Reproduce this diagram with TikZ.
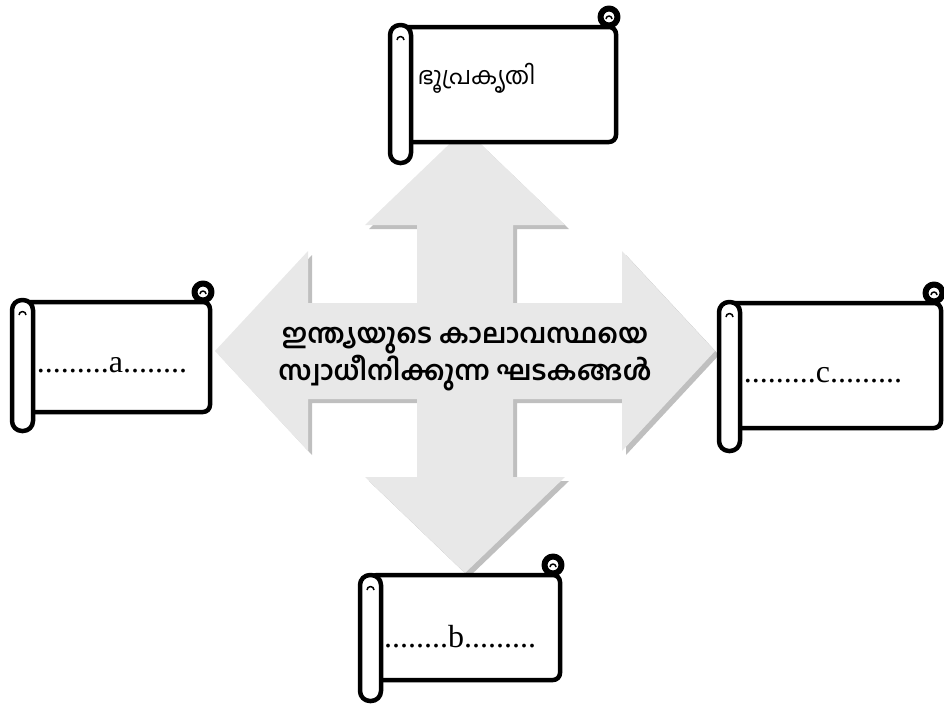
\documentclass[tikz,border=0pt]{standalone}
\usepackage{fontspec}
\setmainfont{Liberation Serif}
\newfontfamily\malfont[Script=Malayalam]{Hind Kochi}
\begin{document}
\begin{tikzpicture}[x=1pt,y=-1pt,line join=round,
  scrollline/.style={line width=4.5pt,line cap=round},
  blank/.style={font=\fontsize{32}{36}\selectfont}]
	\useasboundingbox (0,0) rectangle (944,704);

	%four-way arrow (shadow first, then the grey arrow)
	\foreach \d/\shade in {4/gray!50,0/gray!18}
	  \fill[\shade,shift={(465+\d,351+\d)}] (0,-222) -- (100,-126) -- (48,-126) -- (48,-48) -- (157,-48) -- (157,-100)
	    -- (250,0) -- (157,100) -- (157,48) -- (48,48) -- (48,126) -- (100,126) -- (0,222) -- (-100,126) -- (-48,126)
	    -- (-48,48) -- (-157,48) -- (-157,100) -- (-250,0) -- (-157,-100) -- (-157,-48) -- (-48,-48) -- (-48,-126)
	    -- (-100,-126) -- cycle;

	%scrolls: roll left x / sheet right x / sheet top y / sheet bottom y / roll top y / roll bottom y
	\foreach \l/\r/\t/\b/\rt/\rb in {390/616/27/142/25/163, 12/210/302/412/300/431, 719/941/303/428/302/451, 360/560/575/680/575/701}{
	  \draw[scrollline,fill=white,rounded corners=7] (\l+10,\t) rectangle (\r,\b); %sheet
	  \draw[scrollline,line width=6pt,fill=white] (\r-7,\t-10) circle[radius=8.5]; %top curl
	  \draw[line width=1.5pt] (\r-10,\t-8) arc[start angle=180,end angle=360,radius=3]; %curl inside
	  \draw[scrollline,fill=white,rounded corners=10] (\l,\rt) rectangle (\l+21,\rb); %roll
	  \draw[line width=1.5pt] (\l+7,\rt+15) arc[start angle=180,end angle=360,radius=3.5]; %roll curl
	}

	%labels
	\node[anchor=west,font=\malfont\fontsize{24}{28}\selectfont] (bhu) at (414,78) {ഭൂപ്രകൃതി}; %top scroll
	\node[blank] (a) at (112,365) {.........a........}; %left scroll
	\node[blank] (c) at (823,375) {.........c.........}; %right scroll
	\node[blank] (b) at (460,637) {........b.........}; %bottom scroll

	%centre text
	\node[align=center,font=\malfont\bfseries\fontsize{27}{31}\selectfont] (factors) at (465,359)
	  {ഇന്ത്യയുടെ കാലാവസ്ഥയെ\\സ്വാധീനിക്കുന്ന ഘടകങ്ങൾ};
\end{tikzpicture}
\end{document}
